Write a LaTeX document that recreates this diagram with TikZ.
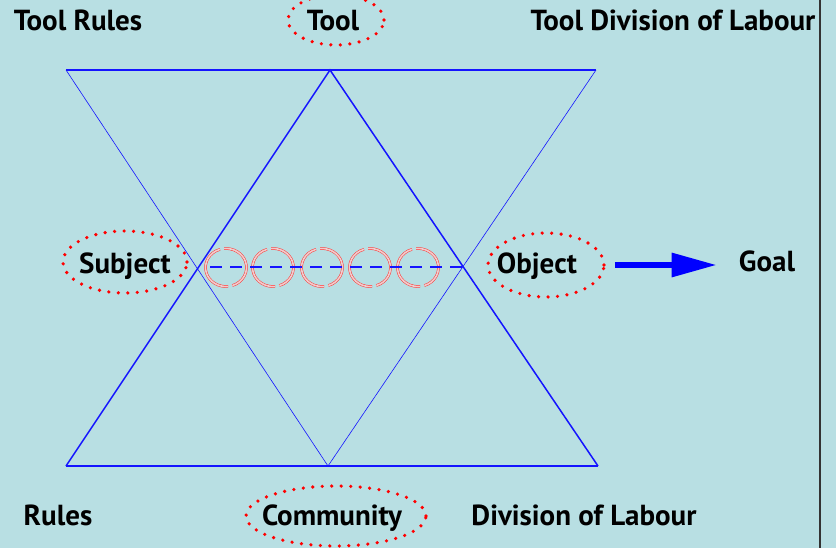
\documentclass[tikz,border=0pt]{standalone}
\usepackage{fontspec}
\setmainfont{PT Sans}
\usetikzlibrary{arrows.meta,shapes.geometric}
\definecolor{bgc}{RGB}{184,223,227}
\definecolor{lblue}{RGB}{20,20,255}
\definecolor{ringin}{RGB}{240,205,205}
\begin{document}
\begin{tikzpicture}[x=1pt,y=-1pt,
  lbl/.style={anchor=base,inner sep=0pt,font=\fontsize{29}{33}\selectfont\bfseries,text=black},
  dotell/.style={ellipse,draw=red,line width=3.6pt,dash pattern=on 0pt off 9.5pt,line cap=round,inner sep=0pt},
  thickln/.style={draw=lblue,line width=1.5pt},
  thinln/.style={draw=lblue,line width=0.6pt},
  ring/.style={draw=red!80,line width=0.5pt,double=ringin,double distance=1.6pt},
  goalarrow/.style={draw=blue,line width=6pt,-{Triangle[length=45pt,width=23pt]}}]
\fill[bgc] (0,0) rectangle (836,548);
\useasboundingbox (0,0) rectangle (836,548);
\draw[black!80,line width=1.5pt] (820,0) -- (820,548);
% vertices
\coordinate (TL) at (66,70);
\coordinate (TA) at (330,70);
\coordinate (TR) at (596,70);
\coordinate (BL) at (66,466);
\coordinate (BA) at (328,466);
\coordinate (BR) at (598,466);
\coordinate (DL) at (210,267);
\coordinate (DR) at (463,267);
% triangles
\draw[thinln] (TL) -- (BA) -- (TR);
\draw[thickln] (TL) -- (TA) -- (TR);
\draw[thickln] (BL) -- (TA) -- (BR);
\draw[thickln] (BL) -- (BA) -- (BR);
% rings
\foreach \cx/\nm in {226/r1,273/r2,322/r3,370/r4,418/r5}{
  \coordinate (\nm) at (\cx,267.5);
  \draw[ring] (\nm) ++(107:20.5pt and 19pt) arc[start angle=107,end angle=276,x radius=20.5pt,y radius=19pt];
  \draw[ring] (\nm) ++(288:20.5pt and 19pt) arc[start angle=288,end angle=455,x radius=20.5pt,y radius=19pt];
}
\draw[draw=lblue,line width=2.6pt,dash pattern=on 12pt off 8pt] (DL) -- (DR);
% dotted ellipses
\node[dotell,minimum width=96pt,minimum height=50pt] (eTool) at (336,20) {};
\node[dotell,minimum width=124pt,minimum height=62pt] (eSub) at (125,262) {};
\node[dotell,minimum width=116pt,minimum height=64pt] (eObj) at (546,265) {};
\node[dotell,minimum width=180pt,minimum height=60pt] (eCom) at (336,516) {};
% labels
\node[lbl] (toolrules) at (78,31) {Tool Rules};
\node[lbl] (tool) at (333,31) {Tool};
\node[lbl] (tooldiv) at (673,31) {Tool Division of Labour};
\node[lbl] (subject) at (125,274) {Subject};
\node[lbl] (object) at (537,274) {Object};
\node[lbl] (goal) at (767,272) {Goal};
\node[lbl] (rules) at (58,525) {Rules};
\node[lbl] (community) at (332,525) {Community};
\node[lbl] (division) at (584,525) {Division of Labour};
% arrow
\draw[goalarrow,shorten <=9pt,shorten >=22pt] (eObj.east) -- (goal.west |- eObj.east);
\end{tikzpicture}
\end{document}
